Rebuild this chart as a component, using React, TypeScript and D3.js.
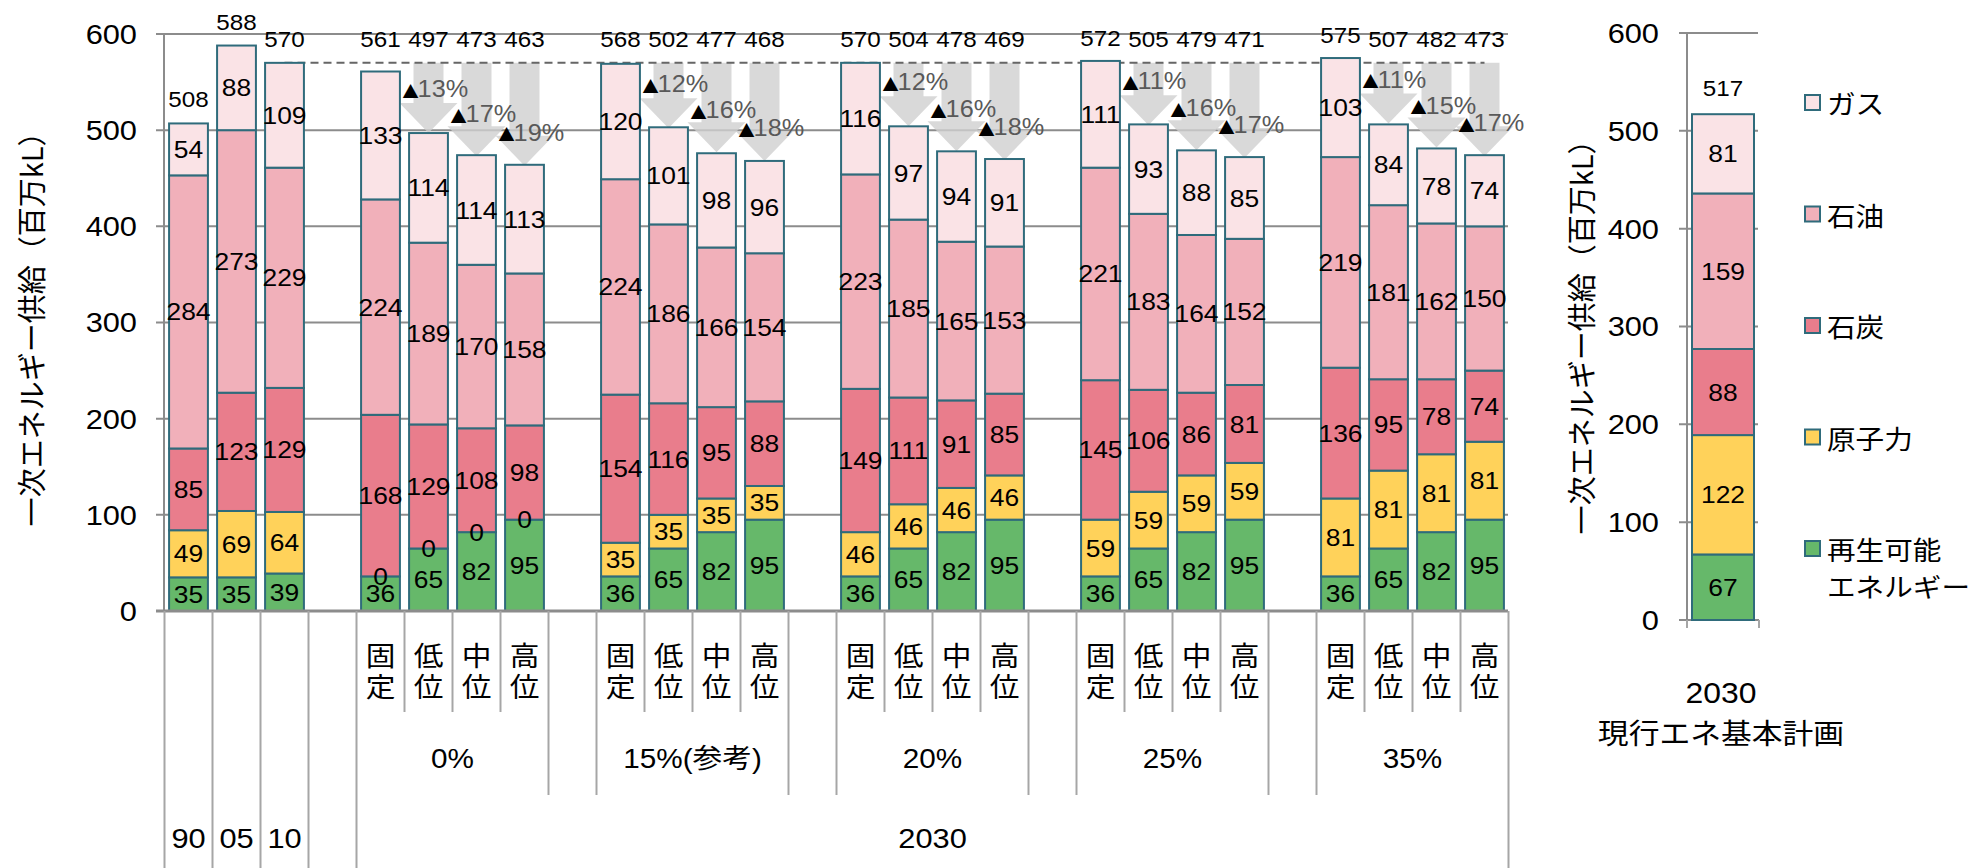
import React from "react";
import * as d3 from "d3";

// categories on the bottom axis (28 slots; blanks are spacer columns)
const leafLabels = ["", "", "", "",
  "固定", "低位", "中位", "高位", "",
  "固定", "低位", "中位", "高位", "",
  "固定", "低位", "中位", "高位", "",
  "固定", "低位", "中位", "高位", "",
  "固定", "低位", "中位", "高位"];
const groupLabels = ["0%", "15%(参考)", "20%", "25%", "35%"];
const groupStarts = [4, 9, 14, 19, 24];
const yearLabels = ["90", "05", "10", "", "2030"];
const yearSpans = [[0, 1], [1, 2], [2, 3], [3, 4], [4, 28]];

const seriesNames = ["再生可能エネルギー", "原子力", "石炭", "石油", "ガス"];
const colors = ["#66b86a", "#ffd25a", "#e97d8c", "#f1b0ba", "#fae3e6"];

const renewable = [35, 35, 39, null, 36, 65, 82, 95, null, 36, 65, 82, 95, null, 36, 65, 82, 95, null, 36, 65, 82, 95, null, 36, 65, 82, 95];
const nuclear = [49, 69, 64, null, 0, 0, 0, 0, null, 35, 35, 35, 35, null, 46, 46, 46, 46, null, 59, 59, 59, 59, null, 81, 81, 81, 81];
const coal = [85, 123, 129, null, 168, 129, 108, 98, null, 154, 116, 95, 88, null, 149, 111, 91, 85, null, 145, 106, 86, 81, null, 136, 95, 78, 74];
const oil = [284, 273, 229, null, 224, 189, 170, 158, null, 224, 186, 166, 154, null, 223, 185, 165, 153, null, 221, 183, 164, 152, null, 219, 181, 162, 150];
const gas = [54, 88, 109, null, 133, 114, 114, 113, null, 120, 101, 98, 96, null, 116, 97, 94, 91, null, 111, 93, 88, 85, null, 103, 84, 78, 74];
const totals = [508, 588, 570, null, 561, 497, 473, 463, null, 568, 502, 477, 468, null, 570, 504, 478, 469, null, 572, 505, 479, 471, null, 575, 507, 482, 473];

// reduction vs 2010 for 低位/中位/高位 of each scenario group
const reductions = [[13, 17, 19], [12, 16, 18], [12, 16, 18], [11, 16, 17], [11, 15, 17]];
const refLevel = 570; // 2010 total

// 2030 現行エネ基本計画
const planValues = [67, 122, 88, 159, 81];
const planTotal = 517;

const yTicks = [0, 100, 200, 300, 400, 500, 600];

const FONT = "'Liberation Sans', Arial, 'Noto Sans CJK JP', sans-serif";
const JP = "'Noto Sans CJK JP', sans-serif";
const SX = 1.1; // the source looks a bit wide

const T = ({ x, y, size, anchor = "middle", fill = "#000", family = FONT, children }: any) => (
  <text transform={`translate(${x},${y}) scale(${SX},1)`} fontSize={size} textAnchor={anchor}
    dominantBaseline="central" fill={fill} fontFamily={family}>{children}</text>
);

export default function App() {
  const x = d3.scaleBand<number>().domain(d3.range(28)).range([164.5, 1508.5]).paddingInner(0.17).paddingOuter(0.085);
  const y = d3.scaleLinear().domain([0, 600]).range([611, 34]);
  const y2 = d3.scaleLinear().domain([0, 600]).range([620, 33]);
  const step = x.step();
  const left0 = 164.5;
  const edge = (k: number) => left0 + k * step;
  const cx = (i: number) => (x(i) as number) + x.bandwidth() / 2;

  const rows = d3.range(28).map(i => ({ i, s0: renewable[i], s1: nuclear[i], s2: coal[i], s3: oil[i], s4: gas[i] }));
  const stack = d3.stack<any>().keys(["s0", "s1", "s2", "s3", "s4"]).value((d, k) => d[k] ?? 0);
  const stacked = stack(rows);

  const planRow = [{ s0: planValues[0], s1: planValues[1], s2: planValues[2], s3: planValues[3], s4: planValues[4] }];
  const planStacked = stack(planRow);

  const isScenario = (i: number) => i >= 4 && leafLabels[i] !== "";

  // vertical category separators
  const seps = d3.range(29).map(k => {
    let bottom = 712;
    if (k <= 4 || k === 28) bottom = 868;
    else if (groupStarts.includes(k) || groupStarts.map(g => g + 4).includes(k)) bottom = 795;
    return { k, bottom };
  });

  // arrows + percent labels
  const arrows: any[] = [];
  groupStarts.forEach((g, gi) => {
    [1, 2, 3].forEach((o, j) => {
      const i = g + o;
      arrows.push({ i, pct: reductions[gi][j], j });
    });
  });
  const pctOffset = [-44, -42, -33];
  const yRef = y(refLevel);

  const planX = 1692, planW = 62;

  return (
    <svg width={1971} height={868} style={{ position: "absolute", left: 0, top: 0, display: "block", background: "#fff" }}>
      {/* gridlines main */}
      {yTicks.filter(t => t > 0).map(t => (
        <line key={t} x1={156} x2={1508} y1={y(t)} y2={y(t)} stroke="#8c8c8c" strokeWidth={2} />
      ))}
      <line x1={164} x2={164} y1={y(600)} y2={y(0)} stroke="#8c8c8c" strokeWidth={2} />
      {yTicks.map(t => (
        <T key={t} x={137} y={y(t)} size={28} anchor="end">{t}</T>
      ))}
      <text transform="translate(30,322) rotate(-90)" fontSize={29} fontFamily={JP} textAnchor="middle" dominantBaseline="central">一次エネルギー供給（百万kL）</text>

      {/* arrows */}
      {arrows.map(a => {
        const c = cx(a.i);
        const top = y(totals[a.i] as number);
        const h = 30;
        const d = `M${c - 15},${yRef} L${c + 15},${yRef} L${c + 15},${top - h} L${c + 29},${top - h} L${c},${top} L${c - 29},${top - h} L${c - 15},${top - h} Z`;
        return <path key={a.i} d={d} fill="#cfcfcf" fillOpacity={0.8} />;
      })}
      <line x1={cx(2)} x2={cx(27)} y1={yRef} y2={yRef} stroke="#666" strokeWidth={2} strokeDasharray="8,5" />

      {/* bars */}
      {stacked.map((layer, si) => layer.map((d: any) => {
        const i = d.data.i;
        if (totals[i] == null) return null;
        return <rect key={`${si}-${i}`} x={(x(i) as number) + 0.5} width={x.bandwidth() - 1}
          y={y(d[1])} height={y(d[0]) - y(d[1])} fill={colors[si]} stroke="#2f6b7b" strokeWidth={2} />;
      }))}
      {stacked.map((layer, si) => layer.map((d: any) => {
        const i = d.data.i;
        if (totals[i] == null) return null;
        const v = d.data[`s${si}`];
        return <T key={`l${si}-${i}`} x={cx(i)} y={y((d[0] + d[1]) / 2)} size={24}>{v}</T>;
      }))}
      {totals.map((t, i) => t == null ? null : (
        <T key={`t${i}`} x={cx(i)} y={y(isScenario(i) ? Math.max(t, refLevel) : t) - 23} size={22}>{t}</T>
      ))}

      {/* percent labels */}
      {arrows.map(a => {
        const top = y(totals[a.i] as number);
        const lx = (x(a.i) as number) - 11;
        const ly = top + pctOffset[a.j];
        return (
          <g key={`p${a.i}`}>
            <T x={lx} y={ly} size={24} anchor="start" fill="#000">▲</T>
            <T x={lx + 20} y={ly} size={23} anchor="start" fill="#595959">{a.pct}%</T>
          </g>
        );
      })}

      {/* category axis */}
      <line x1={156} x2={1508} y1={y(0)} y2={y(0)} stroke="#8c8c8c" strokeWidth={3} />
      {seps.map(s => (
        <line key={s.k} x1={edge(s.k)} x2={edge(s.k)} y1={y(0)} y2={s.bottom} stroke="#a6a6a6" strokeWidth={2} />
      ))}
      {leafLabels.map((l, i) => l === "" ? null : (
        <g key={`leaf${i}`}>
          <T x={cx(i)} y={654} size={27} family={JP}>{l[0]}</T>
          <T x={cx(i)} y={685} size={27} family={JP}>{l[1]}</T>
        </g>
      ))}
      {groupLabels.map((g, gi) => (
        <T key={g} x={(edge(groupStarts[gi]) + edge(groupStarts[gi] + 4)) / 2} y={758} size={27}>{g}</T>
      ))}
      {yearLabels.map((yl, k) => yl === "" ? null : (
        <T key={`y${k}`} x={(edge(yearSpans[k][0]) + edge(yearSpans[k][1])) / 2} y={838} size={28}>{yl}</T>
      ))}

      {/* right chart: current plan */}
      {yTicks.filter(t => t > 0).map(t => (
        <line key={`g2${t}`} x1={1679} x2={1758} y1={y2(t)} y2={y2(t)} stroke="#8c8c8c" strokeWidth={2} />
      ))}
      <line x1={1687} x2={1687} y1={y2(600)} y2={y2(0)} stroke="#8c8c8c" strokeWidth={2} />
      <line x1={1679} x2={1759} y1={y2(0)} y2={y2(0)} stroke="#8c8c8c" strokeWidth={2} />
      <line x1={1687} x2={1687} y1={y2(0)} y2={y2(0) + 8} stroke="#a6a6a6" strokeWidth={2} />
      <line x1={1759} x2={1759} y1={y2(0)} y2={y2(0) + 8} stroke="#a6a6a6" strokeWidth={2} />
      {yTicks.map(t => (
        <T key={`t2${t}`} x={1659} y={y2(t)} size={28} anchor="end">{t}</T>
      ))}
      <text transform="translate(1580,330) rotate(-90)" fontSize={29} fontFamily={JP} textAnchor="middle" dominantBaseline="central">一次エネルギー供給（百万kL）</text>
      {planStacked.map((layer, si) => {
        const d: any = layer[0];
        return (
          <g key={`pl${si}`}>
            <rect x={planX} width={planW} y={y2(d[1])} height={y2(d[0]) - y2(d[1])} fill={colors[si]} stroke="#2f6b7b" strokeWidth={2} />
            <T x={planX + planW / 2} y={y2((d[0] + d[1]) / 2)} size={24}>{planValues[si]}</T>
          </g>
        );
      })}
      <T x={planX + planW / 2} y={y2(planTotal) - 26} size={22}>{planTotal}</T>
      <T x={1721} y={693} size={29}>2030</T>
      <T x={1721} y={732} size={28} family={JP}>現行エネ基本計画</T>

      {/* legend (top = ガス) */}
      {[4, 3, 2, 1, 0].map((si, r) => {
        const ly = 103 + r * 111.5;
        const name = seriesNames[si];
        return (
          <g key={`lg${si}`}>
            <rect x={1805} y={ly - 8} width={15} height={15} fill={colors[si]} stroke="#2f6b7b" strokeWidth={2} />
            {si === 0 ? (
              <>
                <T x={1827} y={ly} size={26} anchor="start" family={JP}>{name.slice(0, 4)}</T>
                <T x={1827} y={ly + 37} size={26} anchor="start" family={JP}>{name.slice(4)}</T>
              </>
            ) : (
              <T x={1827} y={ly} size={26} anchor="start" family={JP}>{name}</T>
            )}
          </g>
        );
      })}
    </svg>
  );
}
